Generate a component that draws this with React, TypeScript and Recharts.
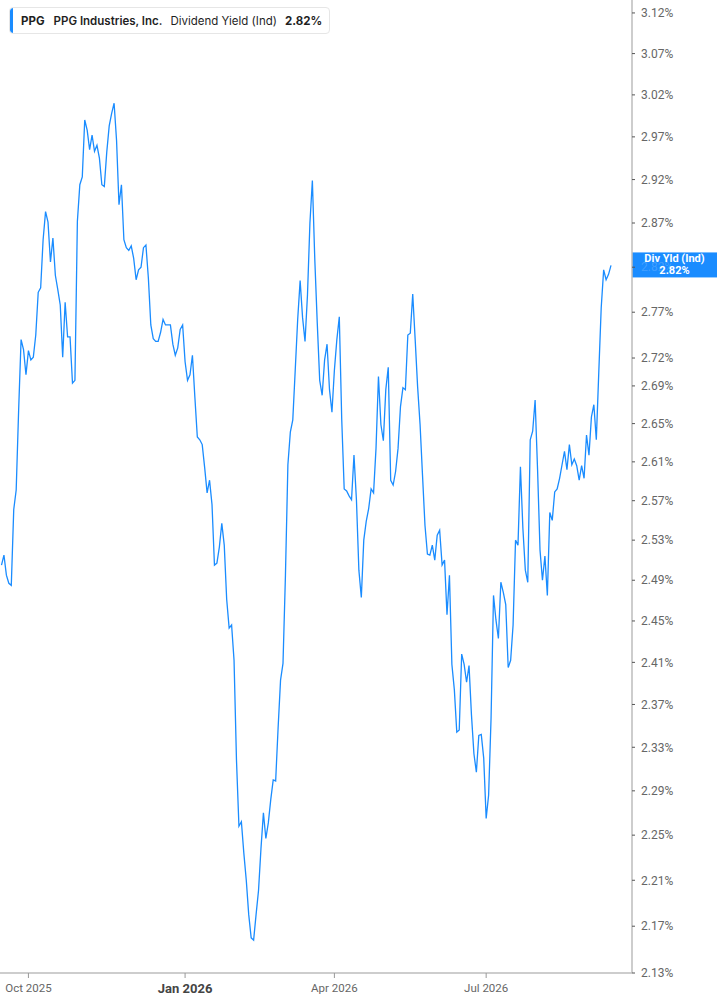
import React from 'react'
import { LineChart, Line, XAxis, YAxis, ReferenceLine } from 'recharts'

// trading calendar for the x categories
const startDate = '2025-09-16'
const holidays = [
  '2025-11-27', '2025-12-25', '2026-01-01', '2026-01-19', '2026-02-16',
  '2026-04-03', '2026-05-25', '2026-06-19', '2026-07-03', '2026-09-07',
]

// PPG dividend yield (ind), %, one value per trading day
const yieldPct = [
  2.505, 2.515, 2.495, 2.487, 2.485, 2.561, 2.581, 2.664, 2.740, 2.729,
  2.702, 2.728, 2.718, 2.721, 2.745, 2.792, 2.797, 2.851, 2.883, 2.871,
  2.826, 2.853, 2.811, 2.795, 2.778, 2.721, 2.781, 2.743, 2.743, 2.693,
  2.696, 2.872, 2.914, 2.923, 2.990, 2.978, 2.955, 2.972, 2.953, 2.960,
  2.945, 2.914, 2.912, 2.952, 2.983, 2.998, 3.010, 2.966, 2.891, 2.914,
  2.851, 2.842, 2.839, 2.844, 2.830, 2.806, 2.817, 2.820, 2.842, 2.845,
  2.808, 2.756, 2.741, 2.738, 2.738, 2.748, 2.762, 2.756, 2.756, 2.756,
  2.735, 2.723, 2.731, 2.751, 2.756, 2.716, 2.696, 2.702, 2.723, 2.678,
  2.636, 2.633, 2.628, 2.604, 2.578, 2.591, 2.566, 2.505, 2.507, 2.523,
  2.547, 2.525, 2.471, 2.443, 2.446, 2.412, 2.318, 2.258, 2.262, 2.234,
  2.210, 2.180, 2.160, 2.158, 2.180, 2.201, 2.238, 2.270, 2.247, 2.261,
  2.282, 2.300, 2.299, 2.348, 2.393, 2.409, 2.495, 2.607, 2.641, 2.654,
  2.707, 2.762, 2.805, 2.764, 2.738, 2.789, 2.870, 2.919, 2.828, 2.758,
  2.696, 2.680, 2.718, 2.735, 2.686, 2.662, 2.707, 2.740, 2.765, 2.654,
  2.582, 2.580, 2.575, 2.571, 2.617, 2.571, 2.500, 2.473, 2.530, 2.549,
  2.562, 2.582, 2.578, 2.624, 2.700, 2.649, 2.632, 2.686, 2.710, 2.591,
  2.586, 2.600, 2.624, 2.668, 2.688, 2.686, 2.745, 2.747, 2.790, 2.740,
  2.689, 2.649, 2.596, 2.545, 2.516, 2.515, 2.525, 2.510, 2.535, 2.540,
  2.505, 2.510, 2.456, 2.495, 2.408, 2.384, 2.344, 2.346, 2.418, 2.408,
  2.391, 2.407, 2.360, 2.324, 2.307, 2.341, 2.342, 2.320, 2.265, 2.286,
  2.357, 2.475, 2.451, 2.433, 2.488, 2.478, 2.466, 2.405, 2.412, 2.446,
  2.530, 2.525, 2.605, 2.542, 2.500, 2.488, 2.633, 2.642, 2.675, 2.602,
  2.520, 2.490, 2.514, 2.475, 2.558, 2.550, 2.579, 2.582, 2.593, 2.607,
  2.621, 2.602, 2.628, 2.607, 2.613, 2.606, 2.591, 2.606, 2.593, 2.638,
  2.617, 2.657, 2.670, 2.633, 2.704, 2.775, 2.817, 2.806, 2.812, 2.822,
]

const xTicks = ['2025-10-01', '2026-01-02', '2026-04-01', '2026-07-01']
const xTickLabels = ['Oct 2025', 'Jan 2026', 'Apr 2026', 'Jul 2026']
const yTicks = [
  2.13, 2.17, 2.21, 2.25, 2.29, 2.33, 2.37, 2.41, 2.45, 2.49, 2.53, 2.57,
  2.61, 2.65, 2.69, 2.72, 2.77, 2.82, 2.87, 2.92, 2.97, 3.02, 3.07, 3.12,
]

const BLUE = '#1a8cff'
const W = 717
const H = 1005
const AXIS_W = 85

function tradingDays(start: string, n: number) {
  const out: string[] = []
  const d = new Date(start + 'T00:00:00Z')
  while (out.length < n) {
    const iso = d.toISOString().slice(0, 10)
    const wd = d.getUTCDay()
    if (wd !== 0 && wd !== 6 && !holidays.includes(iso)) out.push(iso)
    d.setUTCDate(d.getUTCDate() + 1)
  }
  return out
}

const dates = tradingDays(startDate, yieldPct.length)
const data = dates.map((d, i) => ({ d, v: yieldPct[i] }))
const last = yieldPct[yieldPct.length - 1]

const XTick = ({ x, y, payload }: any) => {
  const label = xTickLabels[xTicks.indexOf(payload.value)]
  const bold = label?.startsWith('Jan')
  return (
    <text
      x={x}
      y={y}
      dy={bold ? 13 : 12}
      textAnchor="middle"
      fill={bold ? '#444' : '#666'}
      fontSize={bold ? 13 : 11.5}
      fontWeight={bold ? 700 : 400}
    >
      {label}
    </text>
  )
}

// the tick hidden under the value tag only shows faintly through it
const YTick = ({ x, y, payload }: any) => {
  const hidden = Math.abs(payload.value - last) < 0.01
  return (
    <text
      x={x}
      y={y}
      dy="0.355em"
      textAnchor="start"
      fill={hidden ? 'rgba(255,255,255,0.18)' : '#666'}
      fontSize={12}
    >
      {payload.value.toFixed(2)}%
    </text>
  )
}

const YieldTag = ({ viewBox }: any) => {
  const x = viewBox.x + viewBox.width
  const y = viewBox.y
  const cx = x + AXIS_W / 2
  return (
    <g>
      <rect x={x} y={y - 13} width={AXIS_W} height={25} fill={BLUE} />
      <text x={cx} y={y - 3} textAnchor="middle" fill="#fff" fontSize={11} fontWeight={700}>
        Div Yld (Ind)
      </text>
      <text x={cx} y={y + 9} textAnchor="middle" fill="#fff" fontSize={11} fontWeight={700}>
        {last.toFixed(2)}%
      </text>
    </g>
  )
}

export default function App() {
  return (
    <div style={{ position: 'absolute', left: 0, top: 0, width: W, height: H, background: '#fff', fontFamily: 'Roboto, sans-serif' }}>
      <LineChart width={W} height={H} data={data} margin={{ top: 0, right: 0, bottom: 0, left: 0 }}>
        <XAxis
          dataKey="d"
          ticks={xTicks}
          interval={0}
          tick={<XTick />}
          tickSize={5}
          tickMargin={2}
          height={32}
          padding={{ left: 1.5, right: 21 }}
          axisLine={{ stroke: '#bdbdbd', strokeWidth: 1.5 }}
          tickLine={{ stroke: '#999' }}
        />
        <YAxis
          orientation="right"
          scale="log"
          domain={[2.13, 3.1361]}
          allowDataOverflow
          ticks={yTicks}
          interval={0}
          width={AXIS_W}
          tickSize={3}
          tickMargin={6}
          tick={<YTick />}
          axisLine={{ stroke: '#bdbdbd', strokeWidth: 1.5 }}
          tickLine={{ stroke: '#555' }}
        />
        <Line
          type="linear"
          dataKey="v"
          stroke={BLUE}
          strokeWidth={1.3}
          dot={false}
          activeDot={false}
          isAnimationActive={false}
        />
        <ReferenceLine y={last} stroke="none" label={<YieldTag />} />
      </LineChart>
      <div
        style={{
          position: 'absolute',
          left: 9,
          top: 7,
          height: 25,
          display: 'flex',
          alignItems: 'center',
          padding: '0 7px 0 11px',
          background: '#fff',
          border: '1px solid #e6e6e6',
          borderRadius: 4,
          fontFamily: 'Inter, sans-serif',
          fontSize: 11.5,
          color: '#1f1f1f',
          whiteSpace: 'nowrap',
          overflow: 'hidden',
        }}
      >
        <div style={{ position: 'absolute', left: 0, top: 0, bottom: 0, width: 3, background: BLUE, borderRadius: '4px 0 0 4px' }} />
        <span style={{ fontWeight: 700, marginRight: 9 }}>PPG</span>
        <span style={{ fontWeight: 600, marginRight: 8 }}>PPG Industries, Inc.</span>
        <span style={{ fontWeight: 400, marginRight: 8 }}>Dividend Yield (Ind)</span>
        <span style={{ fontWeight: 700 }}>{last.toFixed(2)}%</span>
      </div>
    </div>
  )
}
